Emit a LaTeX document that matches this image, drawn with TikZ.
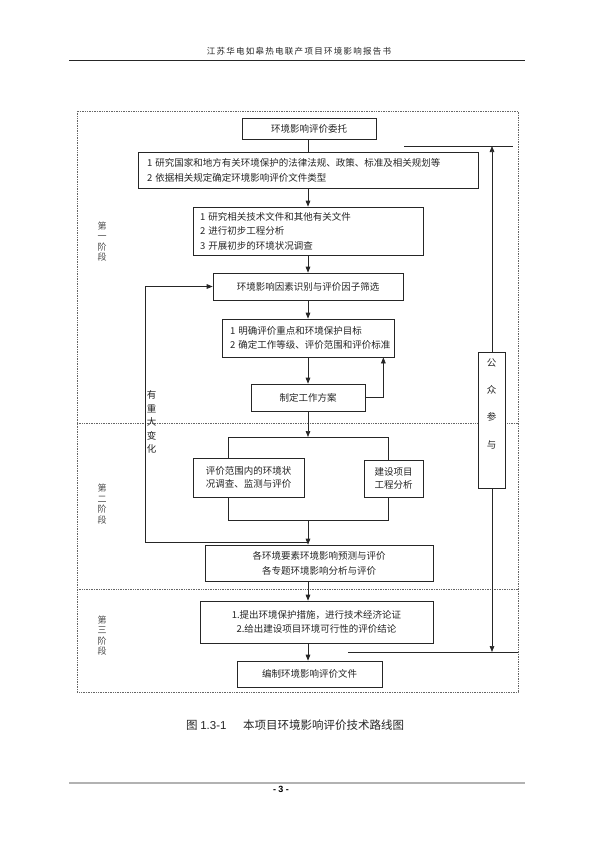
\documentclass[tikz,border=0pt]{standalone}
\usepackage{fontspec}
\setmainfont{Noto Sans CJK SC}
\newfontfamily\lat{Liberation Sans}
\newfontfamily\hdr[LetterSpace=15]{Noto Sans CJK SC}
\usetikzlibrary{arrows.meta,calc}
\begin{document}
\begin{tikzpicture}[x=1pt,y=-1pt,
  box/.style={draw=black!85,line width=0.7pt,fill=white,inner sep=0pt,text=black!85,
    font=\fontsize{9.5}{15}\selectfont,align=center},
  lbox/.style={box,align=left},
  arr/.style={draw=black!85,line width=0.7pt,-{Triangle[length=6pt,width=4.6pt]}},
  ln/.style={draw=black!85,line width=0.7pt},
  frame/.style={draw=black!60,line width=0.6pt,dash pattern=on 1pt off 0.7pt},
  vlab/.style={align=center,font=\fontsize{9}{10.4}\selectfont,text=black!70,inner sep=0pt}]
\useasboundingbox (0,0) rectangle (595,841);
\fill[white] (0,0) rectangle (595,841);

% header and footer
\node[font=\hdr\fontsize{8.5}{10}\selectfont,text=black!85,inner sep=0pt] (hd) at (299,51) {江苏华电如皋热电联产项目环境影响报告书};
\draw[black!85,line width=0.8pt] (69,60) -- (525,60);
\draw[black!30,line width=1.6pt] (69,783) -- (525,783);
\node[font=\lat\bfseries\fontsize{9}{10}\selectfont,inner sep=0pt] (pg) at (281,789) {- 3 -};

% outer frame and stage separators
\draw[frame] (77,111) rectangle (518,692);
\draw[frame] (77,423) -- (518,423);
\draw[frame] (77,589) -- (518,589);

\coordinate (sp) at (308,0);

% boxes
\node[box,minimum width=134pt,minimum height=21pt] (b1) at (309,128.5) {环境影响评价委托};
\node[lbox,text width=322pt,inner xsep=9pt,minimum height=36pt] (b2) at (308,170)
  {1~研究国家和地方有关环境保护的法律法规、政策、标准及相关规划等\\2~依据相关规定确定环境影响评价文件类型};
\node[lbox,text width=216pt,inner xsep=7pt,minimum height=48pt,font=\fontsize{9.5}{14.5}\selectfont] (b3) at (308,231)
  {1~研究相关技术文件和其他有关文件\\2~进行初步工程分析\\3~开展初步的环境状况调查};
\node[box,minimum width=190pt,minimum height=27pt] (b4) at (308,286.5) {环境影响因素识别与评价因子筛选};
\node[lbox,text width=156pt,inner xsep=8pt,minimum height=38pt,font=\fontsize{9.5}{13.5}\selectfont] (b5) at (308,338)
  {1~明确评价重点和环境保护目标\\2~确定工作等级、评价范围和评价标准};
\node[box,minimum width=114pt,minimum height=27pt] (b6) at (308,397.5) {制定工作方案};
\node[box,minimum width=111pt,minimum height=39pt,font=\fontsize{9.5}{13}\selectfont] (b7) at (248.5,477.5)
  {评价范围内的环境状\\况调查、监测与评价};
\node[box,minimum width=59pt,minimum height=37pt,font=\fontsize{9.5}{13}\selectfont] (b8) at (393.5,478.5)
  {建设项目\\工程分析};
\node[box,minimum width=228pt,minimum height=36pt] (b9) at (319,563)
  {各环境要素环境影响预测与评价\\各专题环境影响分析与评价};
\node[box,minimum width=233pt,minimum height=42pt,font=\fontsize{9.5}{14}\selectfont] (b10) at (316.5,622)
  {1.提出环境保护措施，进行技术经济论证\\2.给出建设项目环境可行性的评价结论};
\node[box,minimum width=145pt,minimum height=26pt] (b11) at (309.5,674) {编制环境影响评价文件};
\node[box,minimum width=27pt,minimum height=136pt] (pub) at (491.5,420) {};
\node[vlab,font=\fontsize{9.5}{27.3}\selectfont,text=black!85] (publab) at ($(pub.north)+(0,52)$) {公\\众\\参\\与};

% stage labels
\node[vlab] (s1) at (102,241.5) {第\\一\\阶\\段};
\node[vlab] (s2) at (102,504) {第\\二\\阶\\段};
\node[vlab] (s3) at (102,635.5) {第\\三\\阶\\段};
\node[vlab,font=\fontsize{9.5}{13.5}\selectfont,text=black!85] (chg) at (151.5,422) {有\\重\\大\\变\\化};

% main flow
\draw[ln]  (b1.south -| sp) -- (b2.north -| sp);
\draw[arr] (b2.south -| sp) -- (b3.north -| sp);
\draw[arr] (b3.south -| sp) -- (b4.north -| sp);
\draw[arr] (b4.south -| sp) -- (b5.north -| sp);
\draw[arr] (b5.south -| sp) -- (b6.north -| sp);

% feedback b6 -> b5
\coordinate (fb5) at ($(b5.south east)+(-11,0)$);
\draw[arr] (b6.east) -| (fb5);

% bracket round b7, b8
\coordinate (brt) at (308,437);
\coordinate (brb) at (308,520);
\coordinate (bl) at (228,0);
\coordinate (br) at (388,0);
\draw[arr] (b6.south -| sp) -- (brt);
\draw[ln] (b7.north -| bl) -- (bl |- brt) -- (br |- brt) -- (b8.north -| br);
\draw[ln] (b7.south -| bl) -- (bl |- brb) -- (br |- brb) -- (b8.south -| br);
\draw[arr] (brb) -- (b9.north -| sp);

% feedback "有重大变化"
\coordinate (join) at (308,542);
\coordinate (fbl) at (145,542);
\draw[arr] (join) -- (fbl) |- (b4.west);

\draw[arr] (b9.south -| sp) -- (b10.north -| sp);
\draw[arr] (b10.south -| sp) -- (b11.north -| sp);

% public participation
\coordinate (ptop) at (492,146);
\coordinate (ptl) at (404,146);
\coordinate (ptr) at (513,146);
\coordinate (pbot) at (492,652);
\coordinate (pbl) at (348,652);
\coordinate (pbr) at (518,652);
\draw[ln] (ptl) -- (ptr);
\draw[ln] (pbl) -- (pbr);
\draw[arr] (pub.north -| ptop) -- (ptop);
\draw[arr] (pub.south -| pbot) -- (pbot);

% caption
\node[anchor=west,inner sep=0pt,font=\fontsize{11.5}{12}\selectfont,text=black!85] (cap1) at (186,725) {图~{\lat 1.3-1}};
\node[anchor=west,inner sep=0pt,font=\fontsize{11.5}{12}\selectfont,text=black!85] (cap2) at (243,725) {本项目环境影响评价技术路线图};
\end{tikzpicture}
\end{document}
